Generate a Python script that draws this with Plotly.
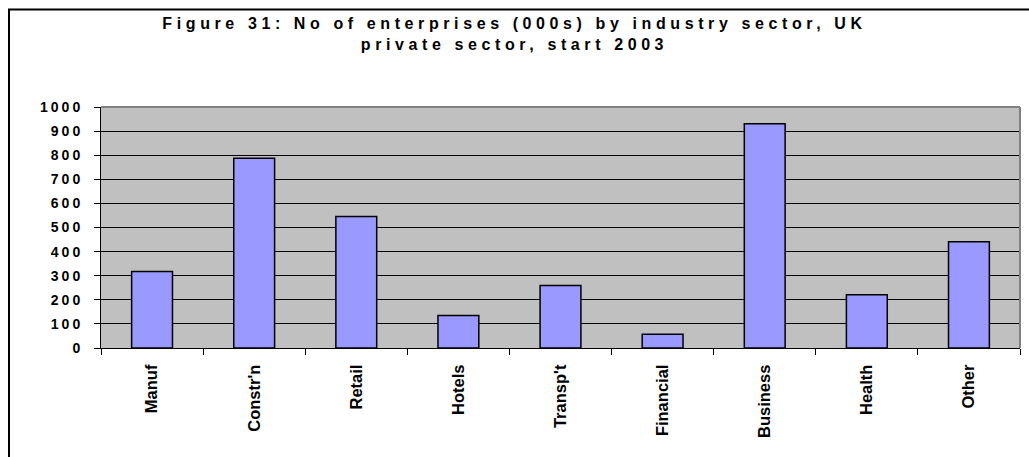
import plotly.graph_objects as go

categories = ["Manuf", "Constr'n", "Retail", "Hotels", "Transp't", "Financial", "Business", "Health", "Other"]
enterprises = [317, 787, 546, 135, 259, 57, 931, 221, 441]
y_ticks = [0, 100, 200, 300, 400, 500, 600, 700, 800, 900, 1000]
title_text = "Figure 31: No of enterprises (000s) by industry sector, UK<br>private sector, start 2003"

W, H = 1029, 457
ML, MR, MT, MB = 101, 9, 107, 109
pw = W - ML - MR
ph = H - MT - MB

def px_x(p):
    return (p - ML) / pw

def px_y(p):
    return (H - MB - p) / ph

fig = go.Figure(go.Bar(
    x=categories, y=enterprises,
    marker=dict(color="#9999FF", line=dict(color="black", width=1.5)),
    width=0.4,
))

font = "Liberation Sans, Arial, sans-serif"
fig.update_layout(
    width=W, height=H,
    margin=dict(l=ML, r=MR, t=MT, b=MB),
    paper_bgcolor="white", plot_bgcolor="#C0C0C0",
    showlegend=False,
    title=dict(text=title_text, x=0.5, xanchor="center", xref="container",
               y=1 - 29 / H, yanchor="top", yref="container",
               font=dict(family=font, size=16, color="black", weight="bold")),
    xaxis=dict(type="category", tickson="boundaries", ticks="outside", ticklen=6,
               tickcolor="black", tickangle=-90, showline=True, linecolor="black",
               linewidth=1, showgrid=False, ticklabelstandoff=9,
               tickfont=dict(family=font, size=16.5, color="black", weight="bold")),
    yaxis=dict(range=[0, 1000], tickvals=y_ticks, ticks="outside", ticklen=6,
               tickcolor="black", showline=True, linecolor="black", linewidth=1,
               showgrid=True, gridcolor="black", gridwidth=1, zeroline=False,
               ticklabelstandoff=8,
               tickfont=dict(family=font, size=14, color="black", weight="bold")),
    shapes=[
        dict(type="line", xref="paper", yref="paper", x0=0, x1=1, y0=1, y1=1,
             line=dict(color="#808080", width=2), layer="above"),
        dict(type="line", xref="paper", yref="paper", x0=1, x1=1, y0=0, y1=1,
             line=dict(color="#808080", width=2), layer="above"),
        dict(type="rect", xref="paper", yref="paper",
             x0=px_x(9), x1=px_x(1040), y0=px_y(470), y1=px_y(9.5),
             line=dict(color="black", width=2), fillcolor="rgba(0,0,0,0)", layer="above"),
    ],
)

post = """
document.body.style.margin='0';
document.querySelectorAll('.gtitle').forEach(function(e){e.style.letterSpacing='4.6px';});
document.querySelectorAll('.ytick text').forEach(function(e){e.style.letterSpacing='3px';});
"""
fig.write_html("out.html", post_script=post, config={"displayModeBar": False})
